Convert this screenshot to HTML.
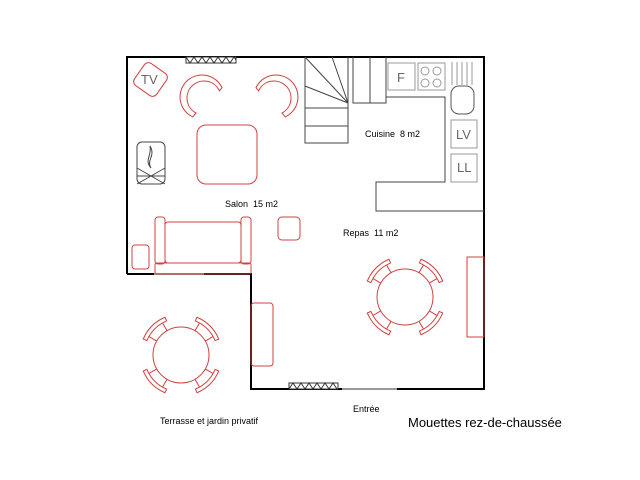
<!DOCTYPE html>
<html><head><meta charset="utf-8"><style>html,body{margin:0;padding:0;background:#fff}svg{display:block}text{font-family:"Liberation Sans",sans-serif}</style></head><body>
<svg width="640" height="480" viewBox="0 0 640 480" xmlns="http://www.w3.org/2000/svg">
<defs>
<g id="chair" fill="none" stroke="#d04040" stroke-width="1">
<path d="M-15.4,-38 A41,41 0 0 1 15.4,-38 L13.9,-34.3 A37,37 0 0 0 -13.9,-34.3 Z"/>
<path d="M-7.3,-27 L-9.6,-35.7 M7.3,-27 L9.6,-35.7"/>
</g>
<g id="table">
<circle r="28" fill="none" stroke="#d04040"/>
<use href="#chair" transform="rotate(45)"/><use href="#chair" transform="rotate(135)"/>
<use href="#chair" transform="rotate(225)"/><use href="#chair" transform="rotate(315)"/>
</g>
<g id="arm" fill="none" stroke="#d04040">
<path d="M192.7,116.9 A22,22 0 1 1 222,87.7 L219.4,90.8 A17,17 0 1 0 196,113 Z"/>
</g>
</defs>
<g fill="none" stroke="#000" stroke-width="2">
<path d="M127,274 V57 H484 V389 H251 V274 H127"/>
</g>
<g stroke="#999" stroke-width="2"><line x1="154" y1="274" x2="204" y2="274"/><line x1="342" y1="389" x2="397" y2="389"/></g>
<g fill="#fff" stroke="#333" stroke-width="1">
<rect x="186" y="57" width="50" height="6"/>
<polyline fill="none" points="186,57 190,63 194,57 198,63 202,57 206,63 210,57 214,63 218,57 222,63 226,57 230,63 234,57 236,60"/>
<rect x="289" y="383" width="49" height="6"/>
<polyline fill="none" points="289,389 293,383 297,389 301,383 305,389 309,383 313,389 317,383 321,389 325,383 329,389 333,383 337,389"/>
</g>
<g fill="none" stroke="#444" stroke-width="1">
<path d="M305,57 V143 H348 V57 M305,108 H348 M305,126 H348 M348,103 L305,57 M348,103 L332,57 M348,103 L305,86 M353,57 V103 H386 V57 M370,57 V103"/>
<path d="M386,97 H445 V182 H376 V211 H484"/>
</g>
<g fill="none" stroke="#999" stroke-width="1">
<rect x="388" y="63" width="27" height="27"/>
<rect x="418" y="63" width="27" height="27"/>
<circle cx="425" cy="71" r="4"/><circle cx="437" cy="71" r="4"/><circle cx="425" cy="83" r="4"/><circle cx="437" cy="83" r="4"/>
<path d="M452,62V85M457,62V85M462,62V85M467,62V85M472,62V85"/>
<rect x="451" y="86" width="23" height="28" rx="8" stroke="#555"/>
<rect x="451" y="120" width="26" height="28"/>
<rect x="451" y="154" width="26" height="28"/>
</g>
<g font-size="14" fill="#666"><text x="397" y="82" font-size="13">F</text><text x="456" y="139" font-size="13">LV</text><text x="457" y="172" font-size="13">LL</text></g>
<g fill="none" stroke="#d04040" stroke-width="1">
<rect x="137" y="66" width="27" height="27" rx="5" transform="rotate(35 150.5 79.5)"/>
<rect x="197" y="125" width="60" height="59" rx="9"/>
<rect x="155" y="217" width="10" height="47" rx="3"/>
<rect x="241" y="217" width="10" height="47" rx="3"/>
<rect x="165" y="222" width="76" height="41" rx="3"/>
<rect x="155" y="263" width="96" height="11" rx="2"/>
<rect x="132" y="245" width="17" height="24" rx="3"/>
<rect x="278" y="217" width="22" height="23" rx="4"/>
<rect x="251" y="303" width="22" height="63" rx="3"/>
<rect x="467" y="257" width="17" height="80"/>
</g>
<text x="141" y="84" font-size="13" fill="#666">TV</text>
<use href="#arm"/>
<use href="#arm" transform="translate(478,0) scale(-1,1)"/>
<g fill="none" stroke="#444">
<rect x="137" y="142" width="28" height="42" rx="5"/>
<path d="M137,168 L165,184 M165,168 L137,184 M137,176 H165"/>
<path d="M151,168 C146,160 156,156 150,146 C152,156 144,160 151,168" stroke-width="1"/>
</g>
<use href="#table" transform="translate(405,297)"/>
<use href="#table" transform="translate(181,355)"/>
<g font-size="9" fill="#000">
<text x="225" y="207">Salon&#160; 15 m2</text>
<text x="365" y="137">Cuisine&#160; 8 m2</text>
<text x="343" y="236">Repas&#160; 11 m2</text>
<text x="353" y="412">Entrée</text>
<text x="160" y="424">Terrasse et jardin privatif</text>
</g>
<text x="408" y="427" font-size="13">Mouettes rez-de-chaussée</text>
</svg>
</body></html>
